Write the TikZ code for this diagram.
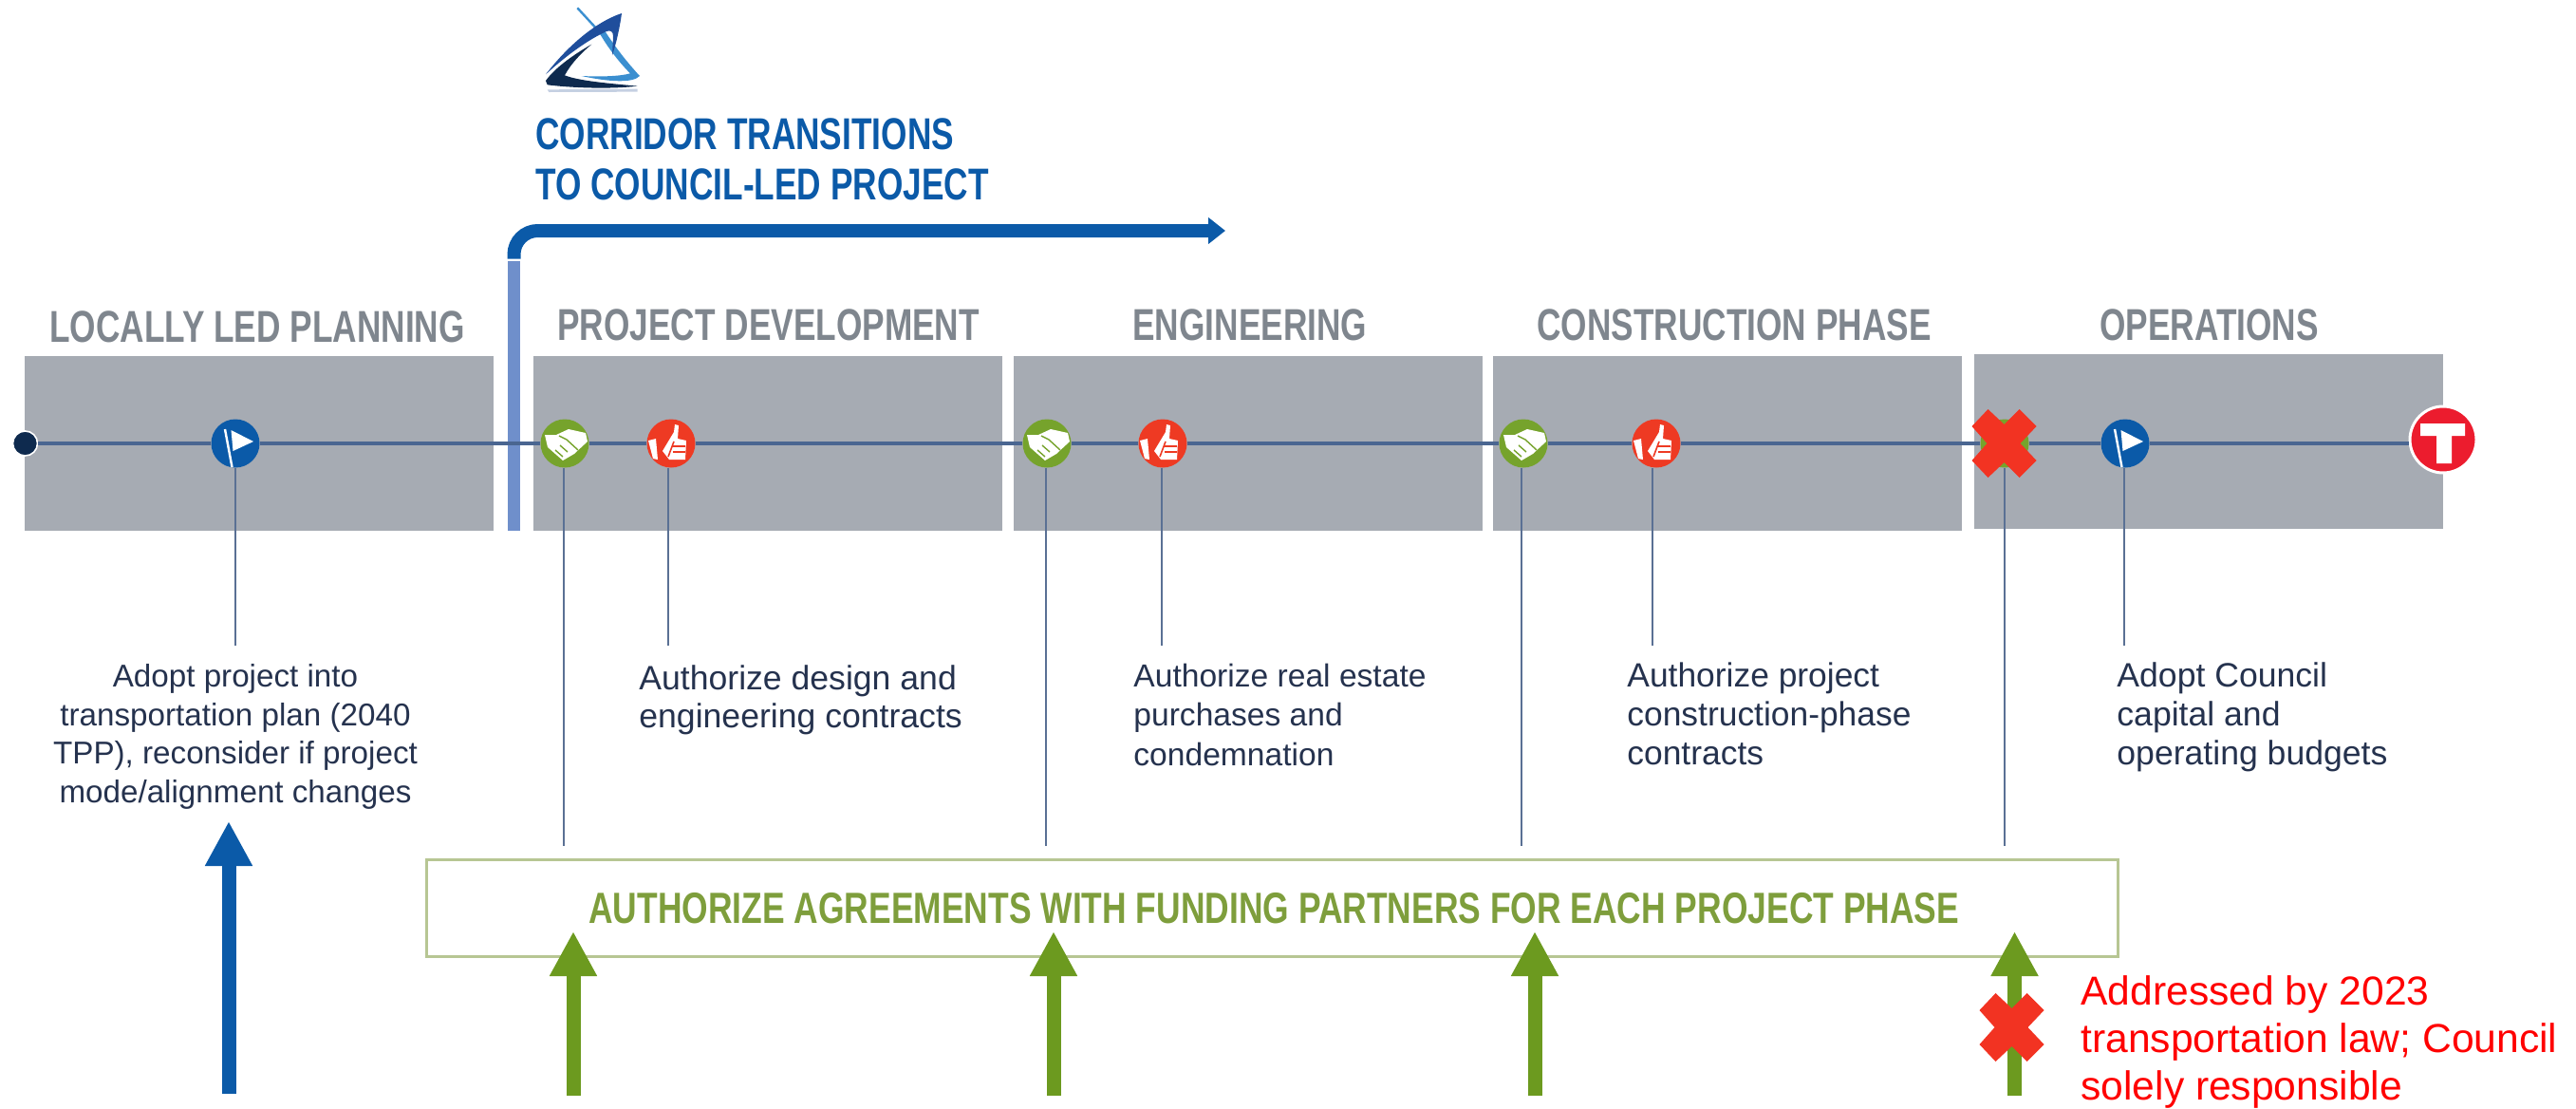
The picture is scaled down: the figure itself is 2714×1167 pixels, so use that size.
\documentclass[tikz,border=0pt]{standalone}
\usepackage{fontspec}
\usetikzlibrary{arrows.meta}
\setmainfont{Liberation Sans}
\newfontfamily\cnhead[FakeStretch=0.75]{Liberation Sans}
\newfontfamily\cngreen[FakeStretch=0.77]{Liberation Sans}
\definecolor{boxgray}{HTML}{A6ABB3}
\definecolor{headgray}{HTML}{7F868E}
\definecolor{mcblue}{HTML}{0B5AA8}
\definecolor{barblue}{HTML}{6F8FCB}
\definecolor{linenavy}{HTML}{4A6691}
\definecolor{leadnavy}{HTML}{5A7094}
\definecolor{dotnavy}{HTML}{0E2A4E}
\definecolor{hgreen}{HTML}{76A32C}
\definecolor{agreen}{HTML}{6C9A1F}
\definecolor{tgreen}{HTML}{7E9E3C}
\definecolor{bgreen}{HTML}{B7C693}
\definecolor{thred}{HTML}{EE3A23}
\definecolor{xred}{HTML}{F23322}
\definecolor{tred}{HTML}{EC1C2E}
\definecolor{bodytext}{HTML}{25324E}
\definecolor{logolight}{HTML}{3B8FD0}
\definecolor{logoblue}{HTML}{1F4E9C}
\definecolor{logoshadow}{HTML}{C5D0E2}
\tikzset{
  phasebox/.style={fill=boxgray,draw=none,minimum width=247pt,minimum height=92pt,inner sep=0pt},
  headtext/.style={anchor=base west,inner sep=0pt,text=headgray,font=\fontsize{23.5}{28}\cnhead\bfseries},
  corrtext/.style={anchor=base west,inner sep=0pt,text=mcblue,font=\fontsize{23.5}{28}\cnhead\bfseries},
  icondisc/.style={circle,minimum size=25.5pt,inner sep=0pt,draw=none},
  timeline/.style={draw=linenavy,line width=1.6pt},
  leader/.style={draw=leadnavy,line width=1pt},
  bigup/.style={line width=7.5pt,-{Triangle[length=23.5pt,width=23.5pt]}},
  bodylabel/.style={anchor=north west,inner sep=0pt,align=left,text=bodytext},
}
\newcommand{\flagicon}[1]{%
  \begin{scope}[shift={(#1.center)}]
    \draw[white,line width=1.2pt] (-11,-15) -- (-3.5,25);
    \fill[white] (-4.5,-14) -- (19,-2) -- (-2.5,8) -- cycle;
  \end{scope}}
\newcommand{\shakeicon}[1]{%
  \begin{scope}[shift={(#1.center)}]
    \fill[white] (-21,-9) -- (-9,-9) -- (4,-15) -- (22,-11) -- (24,-2) -- (10,11) -- (-2,18) -- (-18,4) -- cycle;
    \draw[hgreen,line width=.7pt] (-6,-8) -- (2,-4) -- (14,7);
    \draw[hgreen,line width=.7pt] (-10,7) -- (-2,14);
    \draw[hgreen,line width=.7pt] (-5,2) -- (3,9);
  \end{scope}}
\newcommand{\thumbicon}[1]{%
  \begin{scope}[shift={(#1.center)}]
    \fill[white] (-6,3) -- (3,-12) -- (4,-20) -- (8,-19) -- (7,-5) -- (16,-3) -- (15,17) -- (-2,17) -- (-9,8) -- cycle;
    \fill[white] (-24,-3) -- (-16,-5) -- (-14,17) -- (-19,16) -- cycle;
    \draw[thred,line width=.8pt] (1,3) -- (15,3);
    \draw[thred,line width=.8pt] (2,9) -- (15,9);
    \draw[thred,line width=.8pt] (3,-2) -- (-3,14);
  \end{scope}}
\newcommand{\crossmark}[1]{%
  \fill[xred,shift={(#1)}] (-17,-36) -- (0,-20) -- (16,-36) -- (34,-18) -- (17,0) -- (34,18) -- (16,36) -- (0,20) -- (-17,36) -- (-34,18) -- (-18,0) -- (-34,-18) -- cycle;}
\begin{document}
\begin{tikzpicture}[x=0.5pt,y=-0.5pt]
\useasboundingbox (0,0) rectangle (2714,1167);
% logo
\begin{scope}[shift={(560,0)},x=0.16667pt,y=-0.16667pt]
  \fill[logoshadow] (50,283) -- (335,281) -- (335,290) -- (55,291) -- cycle;
  \fill[dotnavy] (190,140) .. controls (120,180) and (70,220) .. (45,255) -- (50,268) .. controls (130,278) and (250,282) .. (335,272) .. controls (250,264) and (150,256) .. (105,238) .. controls (125,200) and (160,165) .. (190,140) -- cycle;
  \fill[logolight] (215,105) -- (232,98) .. controls (265,150) and (305,200) .. (342,240) .. controls (320,264) and (240,258) .. (158,240) .. controls (220,243) and (280,241) .. (312,232) .. controls (270,190) and (235,140) .. (215,105) -- cycle;
  \draw[logolight,line width=1.2pt] (145,25) -- (225,112);
  \fill[logoblue] (285,42) .. controls (200,70) and (110,150) .. (45,235) .. controls (110,175) and (180,125) .. (235,100) .. controls (250,93) and (258,100) .. (258,115) -- (255,175) .. controls (270,130) and (280,80) .. (285,42) -- cycle;
\end{scope}
% corridor heading
\node[corrtext] (corr1) at (564,157) {CORRIDOR TRANSITIONS};
\node[corrtext] (corr2) at (564,210) {TO COUNCIL-LED PROJECT};
% phase boxes
\node[phasebox] (b1) at (273,467) {};
\node[phasebox] (b2) at (809,467) {};
\node[phasebox] (b3) at (1314.5,467) {};
\node[phasebox] (b4) at (1820,467) {};
\node[phasebox] (b5) at (2326.5,465) {};
% phase headings
\node[headtext] (h1) at (52,360) {LOCALLY LED PLANNING};
\node[headtext] (h2) at (587,358) {PROJECT DEVELOPMENT};
\node[headtext] (h3) at (1193,358) {ENGINEERING};
\node[headtext] (h4) at (1619,358) {CONSTRUCTION PHASE};
\node[headtext] (h5) at (2212,358) {OPERATIONS};
% transition bar and arrow
\node[fill=barblue,minimum width=6.5pt,minimum height=142pt,inner sep=0pt] (bar) at (541.5,417) {};
\coordinate (corrstart) at (bar.north);
\coordinate (corrend) at (1291,243);
\draw[mcblue,line width=7pt,rounded corners=12.5pt,-{Triangle[length=9pt,width=13.5pt]}] ([yshift=1pt]corrstart) |- (corrend);
% timeline icons
\node[circle,minimum size=13pt,inner sep=0pt,fill=dotnavy,draw=white,line width=.8pt] (start) at (26.5,467) {};
\node[icondisc,fill=mcblue] (f1) at (248,467) {};
\node[icondisc,fill=hgreen] (s1) at (595,467) {};
\node[icondisc,fill=thred] (t1) at (707,467) {};
\node[icondisc,fill=hgreen] (s2) at (1103,467) {};
\node[icondisc,fill=thred] (t2) at (1225,467) {};
\node[icondisc,fill=hgreen] (s3) at (1605,467) {};
\node[icondisc,fill=thred] (t3) at (1745,467) {};
\node[icondisc,fill=hgreen] (s4) at (2112,467) {};
\node[icondisc,fill=mcblue] (f2) at (2239,467) {};
\node[circle,minimum size=35pt,inner sep=0pt,fill=tred,draw=white,line width=1.5pt] (metro) at (2574,463) {};
\draw[timeline] (start) -- (f1);
\draw[timeline] (f1) -- (s1);
\draw[timeline] (s1) -- (t1);
\draw[timeline] (t1) -- (s2);
\draw[timeline] (s2) -- (t2);
\draw[timeline] (t2) -- (s3);
\draw[timeline] (s3) -- (t3);
\draw[timeline] (t3) -- (s4);
\draw[timeline] (s4) -- (f2);
\draw[timeline] (f2.east) -- (metro.west |- f2.east);
\flagicon{f1}\flagicon{f2}
\shakeicon{s1}\shakeicon{s2}\shakeicon{s3}
\thumbicon{t1}\thumbicon{t2}\thumbicon{t3}
\fill[white] (2550,446) -- (2597,446) -- (2597,459) -- (2583,459) -- (2583,488) -- (2567,488) -- (2567,459) -- (2550,459) -- cycle;
% leaders
\coordinate (f1end) at (248,680);
\coordinate (t1end) at (704,680);
\coordinate (t2end) at (1224,680);
\coordinate (t3end) at (1741,680);
\coordinate (f2end) at (2238,680);
\coordinate (s1end) at (594,891);
\coordinate (s2end) at (1102,891);
\coordinate (s3end) at (1603,891);
\coordinate (s4end) at (2112,891);
\draw[leader] (t1end |- t1.south) -- (t1end);
\draw[leader] (f1end |- f1.south) -- (f1end);
\draw[leader] (t2end |- t2.south) -- (t2end);
\draw[leader] (t3end |- t3.south) -- (t3end);
\draw[leader] (f2end |- f2.south) -- (f2end);
\draw[leader] (s1end |- s1.south) -- (s1end);
\draw[leader] (s2end |- s2.south) -- (s2end);
\draw[leader] (s3end |- s3.south) -- (s3end);
\draw[leader] (s4end |- s4.south) -- (s4end);
% labels
\node[bodylabel,anchor=north,align=center,font=\fontsize{16.6}{20.3}\selectfont] (l1) at (248,699) {Adopt project into\\transportation plan (2040\\TPP), reconsider if project\\mode/alignment changes};
\node[bodylabel,font=\fontsize{17.8}{20}\selectfont] (l2) at (673,700) {Authorize design and\\engineering contracts};
\node[bodylabel,font=\fontsize{16.8}{20.7}\selectfont] (l3) at (1194,698.5) {Authorize real estate\\purchases and\\condemnation};
\node[bodylabel,font=\fontsize{17.7}{20.6}\selectfont] (l4) at (1714,697) {Authorize project\\construction-phase\\contracts};
\node[bodylabel,font=\fontsize{17.8}{20.6}\selectfont] (l5) at (2230,697) {Adopt Council\\capital and\\operating budgets};
% agreement box
\node[draw=bgreen,line width=1.5pt,minimum width=891pt,minimum height=51pt,inner sep=0pt] (agree) at (1340,956) {};
\node[anchor=base west,inner sep=0pt,text=tgreen,font=\fontsize{23}{28}\cngreen\bfseries] (agreetext) at (620,972) {AUTHORIZE AGREEMENTS WITH FUNDING PARTNERS FOR EACH PROJECT PHASE};
% up arrows
\coordinate (ub) at (241,1152); \coordinate (ut) at (241,865);
\coordinate (g1b) at (604,1154); \coordinate (g1t) at (604,981);
\coordinate (g2b) at (1110,1154); \coordinate (g2t) at (1110,981);
\coordinate (g3b) at (1617,1154); \coordinate (g3t) at (1617,981);
\coordinate (g4b) at (2122.5,1154); \coordinate (g4t) at (2122.5,981);
\draw[bigup,mcblue] (ub) -- (ut);
\draw[bigup,agreen] (g1b) -- (g1t);
\draw[bigup,agreen] (g2b) -- (g2t);
\draw[bigup,agreen] (g3b) -- (g3t);
\draw[bigup,agreen] (g4b) -- (g4t);
% crosses
\coordinate (x1) at (2111.5,467);
\coordinate (x2) at (2119.5,1082);
\crossmark{x1}
\crossmark{x2}
% red note
\node[anchor=north west,inner sep=0pt,align=left,text=red,font=\fontsize{21.3}{25}\selectfont] (note) at (2192,1027) {Addressed by 2023\\transportation law; Council\\solely responsible};
\end{tikzpicture}
\end{document}
